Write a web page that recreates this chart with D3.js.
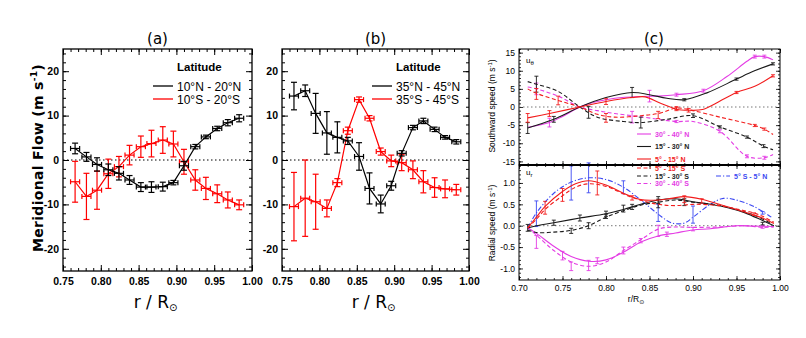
<!DOCTYPE html>
<html>
<head>
<meta charset="utf-8">
<script src="https://cdn.jsdelivr.net/npm/d3@7"></script>
<style>
body { margin: 0; background: #fff; }
svg { display: block; }
</style>
</head>
<body>
<svg id="chart" width="806" height="338"></svg>
<script>
// ---------- data: panels (a) and (b) ----------
const rAB = [0.766, 0.781, 0.795, 0.810, 0.824, 0.838, 0.853, 0.867, 0.882, 0.896, 0.910, 0.925, 0.939, 0.954, 0.968, 0.983];
const rErrAB = 0.006;

const flowN1020 = [2.6, 0.7, -1.0, -2.2, -3.0, -4.5, -6.1, -6.1, -6.0, -5.1, -1.3, 3.0, 5.2, 7.1, 8.4, 9.4];
const errN1020  = [1.2, 1.0, 1.5, 1.3, 1.5, 1.0, 1.0, 1.2, 1.0, 0.5, 1.0, 0.5, 0.4, 0.5, 0.7, 0.8];
const flowS1020 = [-4.9, -8.2, -6.8, -3.1, -1.5, 1.1, 3.0, 3.7, 4.5, 3.6, -0.4, -4.5, -6.4, -7.6, -9.0, -10.1];
const errS1020  = [4.6, 5.2, 4.3, 3.3, 2.3, 2.2, 2.4, 3.0, 3.0, 2.9, 2.8, 2.3, 2.5, 2.0, 1.8, 1.1];

const flowN3545 = [14.4, 15.6, 10.5, 6.1, 5.1, 4.3, 0.8, -6.4, -9.9, -5.8, 1.5, 7.3, 8.8, 6.9, 5.1, 4.1];
const errN3545  = [3.1, 1.3, 4.5, 4.8, 3.5, 0.8, 3.1, 3.5, 2.0, 1.0, 0.6, 0.5, 0.6, 0.5, 0.4, 0.5];
const flowS3545 = [-10.5, -8.6, -9.4, -10.9, -5.1, 6.6, 13.6, 9.4, 1.9, -0.2, -0.6, -2.2, -4.9, -6.2, -6.5, -6.7];
const errS3545  = [7.7, 8.6, 6.2, 1.9, 0.9, 0.8, 0.6, 0.6, 0.8, 1.3, 1.8, 2.0, 2.5, 2.2, 2.0, 1.2];

const abXTicks = [0.75, 0.80, 0.85, 0.90, 0.95, 1.00];
const abYTicks = [-20, -10, 0, 10, 20];
const labelsA = ["10°N - 20°N", "10°S - 20°S"];
const labelsB = ["35°N - 45°N", "35°S - 45°S"];

// ---------- data: panel (c), curves as [r, speed] ----------
const uthN3040 = [[0.71,-5.6],[0.735,-4.3],[0.75,-2.6],[0.77,0],[0.79,1.5],[0.81,2.4],[0.84,2.9],[0.86,3.0],[0.881,3.4],[0.912,4.5],[0.939,8.4],[0.962,12.6],[0.971,13.9],[0.982,13.9],[0.992,13.0]];
const uthN1530 = [[0.71,-5.8],[0.74,-3.4],[0.77,0],[0.80,2.6],[0.83,4.0],[0.85,3.4],[0.87,2.4],[0.89,2.0],[0.916,3.9],[0.95,7.7],[0.97,9.9],[0.992,11.9]];
const uthN0515 = [[0.71,-3.0],[0.735,-1.8],[0.77,0],[0.80,1.5],[0.83,2.6],[0.845,2.8],[0.862,1.1],[0.881,-0.6],[0.895,-0.9],[0.911,-0.7],[0.927,1.1],[0.95,4.0],[0.971,5.7],[0.992,8.6]];
const uthS0515 = [[0.71,5.0],[0.72,3.8],[0.745,1.8],[0.77,0],[0.79,-2.0],[0.81,-2.8],[0.84,-2.4],[0.862,-1.7],[0.881,-0.3],[0.90,-1.0],[0.931,-2.8],[0.971,-5.1],[0.982,-6.1],[0.992,-7.6]];
const uthS1530 = [[0.71,7.0],[0.72,6.3],[0.745,4.3],[0.77,0],[0.79,-2.8],[0.82,-4.0],[0.84,-4.3],[0.87,-3.4],[0.90,-2.4],[0.931,-5.5],[0.962,-8.3],[0.981,-10.8],[0.992,-11.8]];
const uthS3040 = [[0.71,5.5],[0.72,5.0],[0.745,3.0],[0.77,0],[0.79,-1.0],[0.81,-1.8],[0.84,-2.7],[0.881,-4.0],[0.90,-4.0],[0.931,-6.7],[0.962,-13.6],[0.982,-14.0],[0.992,-13.1]];

const urN0515 = [[0.71,-0.05],[0.72,0.2],[0.73,0.45],[0.75,0.8],[0.765,0.98],[0.78,1.05],[0.80,0.95],[0.82,0.76],[0.84,0.61],[0.86,0.6],[0.875,0.64],[0.89,0.68],[0.91,0.62],[0.93,0.5],[0.95,0.38],[0.97,0.25],[0.98,0.18],[0.993,0.05]];
const urS0515 = [[0.71,-0.05],[0.72,0.15],[0.73,0.38],[0.75,0.7],[0.765,0.9],[0.78,0.98],[0.80,0.92],[0.83,0.66],[0.86,0.5],[0.88,0.47],[0.90,0.5],[0.93,0.47],[0.95,0.39],[0.97,0.3],[0.98,0.22],[0.993,0.08]];
const urN1530 = [[0.71,-0.05],[0.72,0.0],[0.74,0.07],[0.77,0.18],[0.80,0.28],[0.82,0.38],[0.84,0.5],[0.86,0.6],[0.88,0.63],[0.90,0.56],[0.92,0.5],[0.94,0.42],[0.96,0.3],[0.98,0.12],[0.993,0.0]];
const urS1530 = [[0.71,-0.1],[0.72,-0.16],[0.74,-0.15],[0.76,-0.11],[0.78,0.0],[0.80,0.2],[0.82,0.35],[0.84,0.48],[0.86,0.55],[0.88,0.6],[0.90,0.55],[0.93,0.48],[0.95,0.38],[0.97,0.25],[0.99,0.05]];
const urN3040 = [[0.71,-0.05],[0.72,-0.18],[0.74,-0.48],[0.76,-0.72],[0.78,-0.83],[0.80,-0.8],[0.82,-0.62],[0.84,-0.38],[0.86,-0.24],[0.88,-0.17],[0.90,-0.1],[0.92,-0.07],[0.95,0.0],[0.97,-0.01],[0.993,-0.02]];
const urS3040 = [[0.71,-0.05],[0.72,-0.22],[0.74,-0.58],[0.76,-0.85],[0.78,-0.95],[0.80,-0.85],[0.82,-0.58],[0.84,-0.33],[0.86,-0.08],[0.88,-0.03],[0.90,-0.04],[0.93,-0.03],[0.96,0.0],[0.98,-0.04],[0.993,-0.03]];
const urEq    = [[0.71,-0.05],[0.72,0.3],[0.74,0.76],[0.76,1.02],[0.78,1.12],[0.80,1.08],[0.82,0.9],[0.84,0.6],[0.86,0.27],[0.875,0.07],[0.89,0.06],[0.90,0.2],[0.92,0.5],[0.935,0.64],[0.95,0.6],[0.97,0.45],[0.99,0.2]];

// error bars as [r, speed, err]
const eThN3040 = [[0.735,-4.3,1.2],[0.85,3.0,1.6],[0.881,3.4,0.4],[0.912,4.5,0.4],[0.971,13.9,0.4],[0.982,13.9,0.4]];
const eThN1530 = [[0.71,-5.8,1.5],[0.74,-3.4,0.8],[0.83,4.0,1.4],[0.89,2.0,0.3],[0.95,7.7,0.3],[0.992,11.9,0.3]];
const eThN0515 = [[0.71,-3.0,1.2],[0.735,-1.8,0.8],[0.80,1.5,0.8],[0.881,-0.6,0.4],[0.895,-0.9,0.5],[0.95,4.0,0.3],[0.992,8.6,0.3]];
const eThS0515 = [[0.72,3.6,1.5],[0.745,1.8,1.2],[0.80,-3.0,1.2],[0.86,-2.2,1.0],[0.881,-0.3,0.4],[0.971,-5.1,0.3],[0.982,-6.1,0.3]];
const eThS1530 = [[0.72,6.3,2.2],[0.78,-1.5,1.6],[0.84,-4.3,1.5],[0.90,-2.4,0.5],[0.931,-5.5,0.3],[0.962,-8.3,0.3],[0.981,-10.8,0.4]];
const eThS3040 = [[0.72,5.0,1.6],[0.83,-2.8,1.6],[0.881,-4.0,0.3],[0.931,-6.7,0.4],[0.962,-13.6,0.4],[0.982,-14.0,0.4]];

const eRN0515 = [[0.73,0.42,0.15],[0.75,0.72,0.15],[0.79,1.0,0.28],[0.83,0.65,0.05],[0.89,0.62,0.08],[0.91,0.58,0.05],[0.97,0.27,0.03]];
const eRN1530 = [[0.71,-0.05,0.08],[0.74,0.07,0.06],[0.77,0.18,0.07],[0.80,0.28,0.06],[0.82,0.4,0.08],[0.86,0.6,0.08],[0.89,0.55,0.08],[0.98,0.05,0.03]];
const eRS1530 = [[0.76,-0.12,0.06],[0.78,0.0,0.07],[0.80,0.22,0.05],[0.83,0.44,0.06],[0.86,0.52,0.1]];
const eREq    = [[0.72,0.28,0.3],[0.76,1.0,0.4],[0.78,1.12,0.35],[0.82,0.9,0.15],[0.86,0.3,0.2],[0.90,0.26,0.2],[0.98,0.3,0.03]];
const eRN3040 = [[0.72,-0.38,0.15],[0.75,-0.7,0.1],[0.76,-0.95,0.1],[0.78,-0.93,0.12],[0.79,-0.82,0.07],[0.82,-0.58,0.08],[0.84,-0.35,0.05],[0.86,-0.12,0.13],[0.87,-0.2,0.05],[0.90,-0.08,0.04],[0.98,-0.03,0.03]];

const cXTicks = [0.70, 0.75, 0.80, 0.85, 0.90, 0.95, 1.00];
const cTopTicks = [-15, -10, -5, 0, 5, 10, 15];
const cBotTicks = [-1.0, -0.5, 0.0, 0.5, 1.0];
const cLabels = ["30° - 40° N", "15° - 30° N", "5° - 15° N", "5° - 15° S", "15° - 30° S", "30° - 40° S", "5° S - 5° N"];

// ---------- drawing ----------
const svg = d3.select("#chart");
svg.append("rect").attr("width", 806).attr("height", 338).attr("fill", "#fff");

const sans = "'Liberation Sans','DejaVu Sans',sans-serif";
const COL = { red: "#f21c1c", black: "#1a1a1a", mag: "#e43ce4", blue: "#3b48f2" };

// plain hyphen for negatives
const fmt = spec => { const f = d3.format(spec); return d => (d < 0 ? "-" : "") + f(Math.abs(d)); };

function box(g, x, y, o) {
  const [xL, xR] = x.range();
  const [yB, yT] = y.range();
  const add = (axis, tx, ty) => g.append("g").attr("transform", `translate(${tx},${ty})`).call(axis);
  add(d3.axisBottom(x).tickValues(o.xMinor).tickSize(-o.minor).tickFormat(""), 0, yB);
  add(d3.axisTop(x).tickValues(o.xMinor).tickSize(-o.minor).tickFormat(""), 0, yT);
  add(d3.axisLeft(y).tickValues(o.yMinor).tickSize(-o.minor).tickFormat(""), xL, 0);
  add(d3.axisRight(y).tickValues(o.yMinor).tickSize(-o.minor).tickFormat(""), xR, 0);
  add(d3.axisBottom(x).tickValues(o.xMajor).tickSize(-o.major).tickPadding(o.xPad)
      .tickFormat(o.showX ? o.xFmt : ""), 0, yB);
  add(d3.axisTop(x).tickValues(o.xMajor).tickSize(-o.major).tickFormat(""), 0, yT);
  add(d3.axisLeft(y).tickValues(o.yMajor).tickSize(-o.major).tickPadding(o.yPad).tickFormat(o.yFmt), xL, 0);
  add(d3.axisRight(y).tickValues(o.yMajor).tickSize(-o.major).tickFormat(""), xR, 0);
  g.selectAll(".domain").remove();
  g.selectAll(".tick line").attr("stroke", "#000").attr("stroke-width", o.tw);
  g.selectAll(".tick text").attr("font-family", o.font).attr("font-size", o.fs)
    .attr("font-weight", o.fw).attr("fill", "#000");
  g.append("rect").attr("x", xL).attr("y", yT).attr("width", xR - xL).attr("height", yB - yT)
    .attr("fill", "none").attr("stroke", "#000").attr("stroke-width", o.bw);
}

function zeroLine(g, x, y, color) {
  g.append("line").attr("x1", x.range()[0]).attr("x2", x.range()[1])
    .attr("y1", y(0)).attr("y2", y(0))
    .attr("stroke", color).attr("stroke-width", 1).attr("stroke-dasharray", "1.5,2.5");
}

// ---- panels (a), (b) ----
function panelAB(x0, x1, title, nFlow, nErr, sFlow, sErr, labels) {
  const g = svg.append("g");
  const x = d3.scaleLinear().domain([0.75, 1.00]).range([x0, x1]);
  const y = d3.scaleLinear().domain([-25, 25]).range([271, 49]);
  box(g, x, y, {
    xMajor: abXTicks, xMinor: d3.range(0.75, 1.001, 0.01),
    yMajor: abYTicks, yMinor: d3.range(-24, 25, 2),
    major: 6, minor: 3, xPad: 7, yPad: 4, showX: true,
    xFmt: d3.format(".2f"), yFmt: fmt("d"),
    font: sans, fs: 10.5, fw: "bold", tw: 1, bw: 1.3
  });
  zeroLine(g, x, y, "#000");

  const series = [
    { v: sFlow, e: sErr, c: "#ff0000" },
    { v: nFlow, e: nErr, c: "#000" }
  ];
  const line = d3.line().x((d, i) => x(rAB[i])).y(d => y(d));
  series.forEach(s => {
    const sg = g.append("g").attr("stroke", s.c).attr("fill", "none").attr("stroke-width", 1.2);
    sg.append("path").attr("d", line(s.v));
    s.v.forEach((v, i) => {
      const cx = x(rAB[i]), cy = y(v);
      const ya = y(v + s.e[i]), yb = y(v - s.e[i]);
      const xa = x(rAB[i] - rErrAB), xb = x(rAB[i] + rErrAB);
      sg.append("line").attr("x1", cx).attr("x2", cx).attr("y1", ya).attr("y2", yb);
      sg.append("line").attr("x1", cx - 3).attr("x2", cx + 3).attr("y1", ya).attr("y2", ya);
      sg.append("line").attr("x1", cx - 3).attr("x2", cx + 3).attr("y1", yb).attr("y2", yb);
      sg.append("line").attr("x1", xa).attr("x2", xb).attr("y1", cy).attr("y2", cy);
      sg.append("line").attr("x1", xa).attr("x2", xa).attr("y1", cy - 2.5).attr("y2", cy + 2.5);
      sg.append("line").attr("x1", xb).attr("x2", xb).attr("y1", cy - 2.5).attr("y2", cy + 2.5);
    });
  });

  // legend
  const lx = x0 + 90;
  g.append("text").attr("x", lx + 24).attr("y", 71).text("Latitude")
    .attr("font-family", sans).attr("font-weight", "bold").attr("font-size", 11.5);
  [["#000", 86], ["#ff0000", 99]].forEach((c, i) => {
    g.append("line").attr("x1", lx).attr("x2", lx + 20).attr("y1", c[1]).attr("y2", c[1])
      .attr("stroke", c[0]).attr("stroke-width", 1.3);
    g.append("text").attr("x", lx + 24).attr("y", c[1] + 4.5).text(labels[i])
      .attr("font-family", sans).attr("font-size", 12).attr("fill", "#000");
  });

  g.append("text").attr("x", (x0 + x1) / 2).attr("y", 44).attr("text-anchor", "middle")
    .attr("font-family", "'DejaVu Sans',sans-serif").attr("font-size", 15).text(title);

  const xl = g.append("text").attr("x", (x0 + x1) / 2 - 2).attr("y", 308).attr("text-anchor", "middle")
    .attr("font-family", "'DejaVu Sans',sans-serif").attr("font-size", 17);
  xl.append("tspan").text("r / R");
  xl.append("tspan").attr("font-size", 10).attr("dy", 3).text("⊙");
  return g;
}

panelAB(63, 252, "(a)", flowN1020, errN1020, flowS1020, errS1020, labelsA);
panelAB(282, 469, "(b)", flowN3545, errN3545, flowS3545, errS3545, labelsB);

// y label of (a)
const yl = svg.append("text").attr("transform", "translate(43,158) rotate(-90)")
  .attr("text-anchor", "middle").attr("font-family", "'DejaVu Sans',sans-serif")
  .attr("font-weight", "bold").attr("font-size", 14).attr("letter-spacing", 0.3);
yl.append("tspan").text("Meridional Flow (m s");
yl.append("tspan").attr("font-size", 9).attr("dy", -6).text("-1");
yl.append("tspan").attr("dy", 6).text(")");

// ---- panel (c) ----
const gc = svg.append("g");
const xc = d3.scaleLinear().domain([0.70, 1.00]).range([519, 780]);
const yTop = d3.scaleLinear().domain([-16, 16]).range([165, 49]);
const yBot = d3.scaleLinear().domain([-1.27, 1.42]).range([280, 165]);

const cOpts = {
  xMajor: cXTicks, xMinor: d3.range(0.70, 1.001, 0.01),
  major: 4, minor: 2, xPad: 5, yPad: 4,
  xFmt: d3.format(".2f"), font: sans, fs: 8.5, fw: "normal", tw: 0.8, bw: 1
};
box(gc.append("g"), xc, yTop, Object.assign({}, cOpts, {
  yMajor: cTopTicks, yMinor: d3.range(-16, 17, 1), yFmt: fmt("d"), showX: false }));
box(gc.append("g"), xc, yBot, Object.assign({}, cOpts, {
  yMajor: cBotTicks, yMinor: d3.range(-1.2, 1.41, 0.1), yFmt: fmt(".1f"), showX: true }));
zeroLine(gc, xc, yTop, "#777");
zeroLine(gc, xc, yBot, "#777");

const dashes = { solid: null, dash: "4,2.5", dashdot: "5,2,1.2,2" };
function curve(g, y, pts, color, dash, errs) {
  const ln = d3.line().x(d => xc(d[0])).y(d => y(d[1])).curve(d3.curveCatmullRom.alpha(0.5));
  g.append("path").attr("d", ln(pts)).attr("fill", "none").attr("stroke", color)
    .attr("stroke-width", 1.1).attr("stroke-dasharray", dashes[dash]);
  (errs || []).forEach(e => {
    const cx = xc(e[0]), ya = y(e[1] + e[2]), yb = y(e[1] - e[2]);
    const eg = g.append("g").attr("stroke", color).attr("stroke-width", 0.9);
    eg.append("line").attr("x1", cx).attr("x2", cx).attr("y1", ya).attr("y2", yb);
    eg.append("line").attr("x1", cx - 2).attr("x2", cx + 2).attr("y1", ya).attr("y2", ya);
    eg.append("line").attr("x1", cx - 2).attr("x2", cx + 2).attr("y1", yb).attr("y2", yb);
  });
}

curve(gc, yTop, uthS3040, COL.mag, "dash", eThS3040);
curve(gc, yTop, uthS1530, COL.black, "dash", eThS1530);
curve(gc, yTop, uthS0515, COL.red, "dash", eThS0515);
curve(gc, yTop, uthN3040, COL.mag, "solid", eThN3040);
curve(gc, yTop, uthN1530, COL.black, "solid", eThN1530);
curve(gc, yTop, uthN0515, COL.red, "solid", eThN0515);

curve(gc, yBot, urEq, COL.blue, "dashdot", eREq);
curve(gc, yBot, urS3040, COL.mag, "dash", []);
curve(gc, yBot, urN3040, COL.mag, "solid", eRN3040);
curve(gc, yBot, urS1530, COL.black, "dash", eRS1530);
curve(gc, yBot, urN1530, COL.black, "solid", eRN1530);
curve(gc, yBot, urS0515, COL.red, "dash", []);
curve(gc, yBot, urN0515, COL.red, "solid", eRN0515);

// legend of (c)
const legC = [
  [COL.mag, "solid", 637, 134], [COL.black, "solid", 637, 146.5], [COL.red, "solid", 637, 159],
  [COL.red, "dash", 637, 168], [COL.black, "dash", 637, 176], [COL.mag, "dash", 637, 183.5],
  [COL.blue, "dashdot", 716, 176]
];
legC.forEach((l, i) => {
  gc.append("line").attr("x1", l[2]).attr("x2", l[2] + 14).attr("y1", l[3]).attr("y2", l[3])
    .attr("stroke", l[0]).attr("stroke-width", 1.1).attr("stroke-dasharray", dashes[l[1]]);
  gc.append("text").attr("x", l[2] + 18).attr("y", l[3] + 2.5).text(cLabels[i])
    .attr("font-family", sans).attr("font-size", 7).attr("font-weight", "bold")
    .attr("fill", l[0] === COL.black ? "#222" : l[0]);
});
// separator between the two sub-panels
gc.append("line").attr("x1", 519).attr("x2", 780).attr("y1", 165).attr("y2", 165)
  .attr("stroke", "#000").attr("stroke-width", 1.8);

// subpanel tags
const tag = (x, y, sub) => {
  const t = gc.append("text").attr("x", x).attr("y", y).attr("font-family", sans).attr("font-size", 8);
  t.append("tspan").text("u");
  t.append("tspan").attr("font-size", 6).attr("dy", 2).text(sub);
};
tag(526, 63, "θ");
tag(526, 175, "r");

// y labels (c)
function vlabel(text, cy) {
  const t = gc.append("text").attr("transform", `translate(495,${cy}) rotate(-90)`)
    .attr("text-anchor", "middle").attr("font-family", sans).attr("font-size", 8.5);
  t.append("tspan").text(text + " (m s");
  t.append("tspan").attr("font-size", 6).attr("dy", -3).text("-1");
  t.append("tspan").attr("dy", 3).text(")");
}
vlabel("Southward speed", 106);
vlabel("Radial speed", 223);

gc.append("text").attr("x", 654).attr("y", 44).attr("text-anchor", "middle")
  .attr("font-family", "'DejaVu Sans',sans-serif").attr("font-size", 15).text("(c)");
const xlc = gc.append("text").attr("x", 636).attr("y", 302).attr("text-anchor", "middle")
  .attr("font-family", sans).attr("font-size", 8.5);
xlc.append("tspan").text("r/R");
xlc.append("tspan").attr("font-size", 6).attr("dy", 2).text("⊙");
</script>
</body>
</html>
